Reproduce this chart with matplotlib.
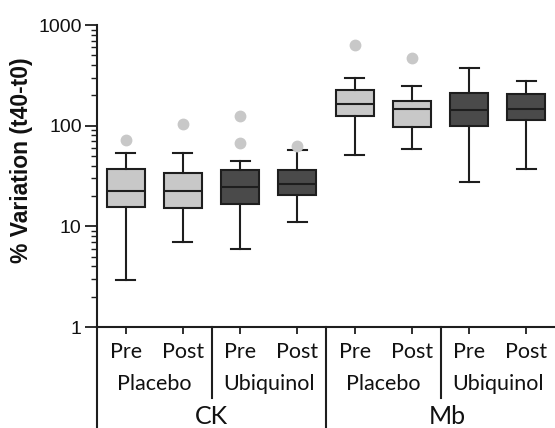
import matplotlib
matplotlib.use("Agg")
import matplotlib.pyplot as plt
from matplotlib.lines import Line2D

plt.rcParams["font.family"] = ["Liberation Sans", "DejaVu Sans"]

# ---- data ----
positions = [1, 2, 3, 4, 5, 6, 7, 8]
time_labels = ["Pre", "Post", "Pre", "Post", "Pre", "Post", "Pre", "Post"]
group_labels = ["Placebo", "Ubiquinol", "Placebo", "Ubiquinol"]
marker_labels = ["CK", "Mb"]
whislo = [2.95, 7.0, 6.0, 11.1, 50.7, 58.6, 27.5, 36.8]
q1 = [15.7, 15.2, 16.6, 20.3, 126, 97.5, 99.8, 115]
med = [22.3, 22.3, 24.6, 26.5, 163, 147, 143, 145]
q3 = [37.3, 33.6, 36.2, 36.2, 227, 177, 211, 206]
whishi = [53.8, 53.0, 44.8, 56.9, 295, 245, 371, 277]
fliers = [[72], [103], [126, 68], [63], [636], [466], [], []]
fills = ["#c8c8c8", "#c8c8c8", "#4a4a4a", "#4a4a4a",
         "#c8c8c8", "#c8c8c8", "#4a4a4a", "#4a4a4a"]

W, H = 555, 428
fig = plt.figure(figsize=(W / 100, H / 100), dpi=100)
L, R, B, T = 97, 555, 327, 25
ax = fig.add_axes([L / W, 1 - B / H, (R - L) / W, (B - T) / H])

stats = []
for i in range(len(positions)):
    stats.append(dict(whislo=whislo[i], q1=q1[i], med=med[i], q3=q3[i],
                      whishi=whishi[i], fliers=fliers[i]))

edge = "#1e1e1e"
bp = ax.bxp(stats, positions=positions, widths=0.66, capwidths=0.33,
            patch_artist=True, showfliers=True,
            boxprops=dict(edgecolor=edge, linewidth=1.5),
            medianprops=dict(color=edge, linewidth=1.5),
            whiskerprops=dict(color=edge, linewidth=1.5),
            capprops=dict(color=edge, linewidth=1.5),
            flierprops=dict(marker="o", markerfacecolor="#c8c8c8",
                            markeredgecolor="#c8c8c8", markersize=7.5,
                            linestyle="none"))
for patch, c in zip(bp["boxes"], fills):
    patch.set_facecolor(c)

ax.set_yscale("log")
ax.set_ylim(1, 1000)
ax.set_xlim(0.5, 8.5)

for s in ["top", "right"]:
    ax.spines[s].set_visible(False)
for s in ["left", "bottom"]:
    ax.spines[s].set_linewidth(1.5)
    ax.spines[s].set_color(edge)

ax.set_yticks([1, 10, 100, 1000])
ax.set_yticklabels(["1", "10", "100", "1000"])
ax.tick_params(axis="y", which="major", length=9, width=1.3, color=edge,
               pad=2, labelsize=14, labelcolor="#111111")
ax.tick_params(axis="y", which="minor", length=4.5, width=1.0, color=edge)
ax.set_xticks(positions)
ax.set_xticklabels([])
ax.tick_params(axis="x", which="major", length=5, width=1.3, color=edge,
               direction="out")
ax.tick_params(axis="x", which="minor", length=0)

ax.set_ylabel("% Variation (t40-t0)", fontsize=16.5, fontweight="bold",
              color="#111111")
ax.yaxis.set_label_coords(-0.14, 0.553)

def fx(p):
    return (L + (p - 0.5) * (R - L) / 8) / W

# x category labels
xfont = dict(family="Lato", fontsize=15.5, color="#111111")
for p, lab in zip(positions, time_labels):
    fig.text(fx(p), 1 - 352 / H, lab, ha="center", va="center", **xfont)
for j, lab in enumerate(group_labels):
    p = 1.5 + 2 * j
    fig.text(fx(p), 1 - 384 / H, lab, ha="center", va="center", **xfont)
for j, lab in enumerate(marker_labels):
    p = 2.5 + 4 * j
    fig.text(fx(p) + (0.012 if j else 0), 1 - 416 / H, lab,
             ha="center", va="center", family="Lato", fontsize=18,
             color="#111111")

# separators
for p, ybot in [(0.5, 428), (2.5, 398), (4.5, 428), (6.5, 398)]:
    fig.add_artist(Line2D([fx(p), fx(p)], [1 - B / H, 1 - ybot / H],
                          color=edge, linewidth=1.5,
                          transform=fig.transFigure))

fig.savefig("out.png", dpi=100)
